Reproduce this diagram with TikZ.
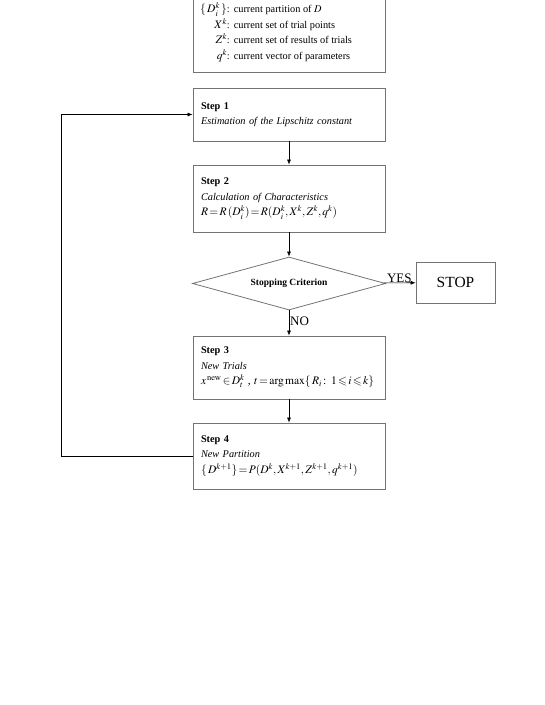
\documentclass[tikz,border=0pt]{standalone}
\usepackage{mathptmx}
\usepackage{amssymb}
\usepackage{fontspec}
\setmainfont{Liberation Serif}
\usetikzlibrary{shapes.geometric,arrows.meta}
\newcommand{\mathline}{\fontsize{11.5}{15.5}\selectfont\thickmuskip=2mu\medmuskip=1mu}
\begin{document}
\begin{tikzpicture}[x=1pt,y=-1pt,
  stepbox/.style={draw=black!55,line width=0.8pt,text width=176pt,inner xsep=8pt,inner ysep=0pt,align=left,font=\fontsize{10.3}{15.5}\selectfont},
  critbox/.style={diamond,draw=black!55,line width=0.8pt,aspect=3.6,inner sep=0pt,minimum width=193pt,minimum height=53pt,font=\fontsize{9.5}{11}\selectfont\bfseries},
  stopbox/.style={draw=black!55,line width=0.8pt,minimum width=79pt,minimum height=41pt,inner sep=0pt,font=\fontsize{15.5}{18}\selectfont},
  lbl/.style={inner sep=1pt,font=\fontsize{13}{15}\selectfont},
  link/.style={line width=0.6pt,-{Latex[length=5pt,width=4pt]}}]
\clip (0,0) rectangle (545,705);
\node [stepbox,minimum height=88pt] (notes) at (289,28) {};
\node [anchor=west,inner sep=0pt,font=\fontsize{10.3}{15.5}\selectfont] (vars) at (200,33) {\begin{tabular}{@{}r@{\hspace{4pt}}l@{}}
{\mathline$\{\,D_i^k\,\}$}: & current partition of $D$\\
{\mathline$X^k$}: & current set of trial points\\
{\mathline$Z^k$}: & current set of results of trials\\
{\mathline$q^k$}: & current vector of parameters
\end{tabular}};
\node [stepbox,minimum height=53pt] (s1) at (289,114.5) {{\bfseries Step 1}\\ \textit{Estimation of the Lipschitz constant}};
\node [stepbox,minimum height=67pt] (s2) at (289,198.5) {{\bfseries Step 2}\\ \textit{Calculation of Characteristics}\\ {\mathline$R=R\,(D_i^k)=R(D_i^k,X^k,Z^k,q^k)$}};
\node [critbox] (crit) at (289,283.5) {Stopping Criterion};
\node [stopbox] (stop) at (455.5,282.5) {STOP};
\node [stepbox,minimum height=63pt] (s3) at (289,367.5) {{\bfseries Step 3}\\ \textit{New Trials}\\ \mbox{\mathline$x^{\,\mathrm{new}}\in D_t^k$ , $t=\arg\max\{\,R_i:\ 1\leqslant i\leqslant k\}$}};
\node [stepbox,minimum height=66pt] (s4) at (289,456) {{\bfseries Step 4}\\ \textit{New Partition}\\ {\mathline$\{\,D^{k+1}\}=P(D^k,X^{k+1},Z^{k+1},q^{k+1})$}};
\node [lbl,anchor=south west] (yes) at (crit.east) {YES};
\node [lbl,anchor=west] (no) at (289,321) {NO};
\coordinate (back) at (61,456);
% arrows
\draw [link] (s1) -- (s2);
\draw [link] (s2) -- (crit);
\draw [link] (crit) -- (stop);
\draw [link] (crit) -- (s3);
\draw [link] (s3) -- (s4);
\draw [link] (s4.west) -- (back) |- (s1.west);
\end{tikzpicture}
\end{document}
